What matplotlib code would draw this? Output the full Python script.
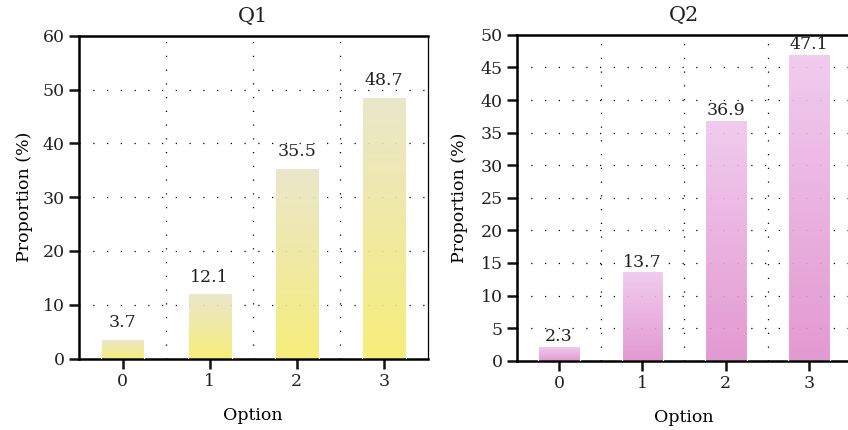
import numpy as np
import matplotlib.pyplot as plt
import matplotlib.colors as mcolors
from matplotlib.ticker import MultipleLocator, FixedLocator

plt.rcParams['font.family'] = ['DejaVu Serif']
plt.rcParams['font.size'] = 12.5
plt.rcParams['text.color'] = '#222222'
plt.rcParams['xtick.color'] = '#111111'
plt.rcParams['ytick.color'] = '#111111'
plt.rcParams['xtick.labelcolor'] = '#222222'
plt.rcParams['ytick.labelcolor'] = '#222222'

options = [0, 1, 2, 3]
q1_values = [3.7, 12.1, 35.5, 48.7]
q2_values = [2.3, 13.7, 36.9, 47.1]

q1_colors = ("#E8E4C6", "#F6EC6C")   # top, bottom
q2_colors = ("#F0C6EE", "#E08ECC")


def gradient_bars(ax, bars, top, bottom):
    c_top = np.array(mcolors.to_rgba(top))
    c_bot = np.array(mcolors.to_rgba(bottom))
    t = np.linspace(0, 1, 256)[:, None]
    grad = (c_bot * (1 - t) + c_top * t)[:, None, :]
    for b in bars:
        x0, y0 = b.get_x(), b.get_y()
        w, h = b.get_width(), b.get_height()
        im = ax.imshow(grad, extent=[x0, x0 + w, y0, y0 + h], origin='lower',
                       aspect='auto', alpha=0.9, zorder=2)
        im.set_clip_path(b)


def panel(ax, values, colors, title, ymax, ystep, offset, ylabpad):
    bars = ax.bar(options, values, width=0.5, facecolor='none',
                  edgecolor='white', linewidth=0.8, zorder=3)
    gradient_bars(ax, bars, *colors)
    for x, v in zip(options, values):
        ax.annotate(f"{v}", (x, v), xytext=(0, offset), textcoords='offset points',
                    ha='center', va='baseline')
    ax.set_xlim(-0.5, 3.5)
    ax.set_ylim(0, ymax)
    ax.set_xticks(options)
    ax.yaxis.set_major_locator(MultipleLocator(ystep))
    ax.xaxis.set_minor_locator(FixedLocator([0.5, 1.5, 2.5]))
    ax.set_axisbelow(True)
    ax.grid(axis='y', which='major', color='black', linestyle=(0, (1, 10)), linewidth=0.9)
    ax.grid(axis='x', which='minor', color='black', linestyle=(0, (1, 10)), linewidth=0.9)
    ax.tick_params(axis='x', which='minor', length=0)
    ax.tick_params(which='major', direction='out', length=7, width=1.8)
    for s in ['left', 'bottom', 'top']:
        ax.spines[s].set_linewidth(1.8)
    ax.spines['right'].set_linewidth(0.9)
    ax.set_title(title, pad=10)
    ax.set_xlabel("Option", labelpad=12)
    ax.set_ylabel("Proportion (%)", labelpad=ylabpad)


fig = plt.figure(figsize=(8.48, 4.30), dpi=100)
ax1 = fig.add_axes([0.0932, 0.166, 0.411, 0.751])
ax2 = fig.add_axes([0.610, 0.161, 0.3935, 0.758])

panel(ax1, q1_values, q1_colors, "Q1", 60, 10, 8.5, 7)
panel(ax2, q2_values, q2_colors, "Q2", 50, 5, 3.5, 9)

fig.savefig("out.png", dpi=100)
